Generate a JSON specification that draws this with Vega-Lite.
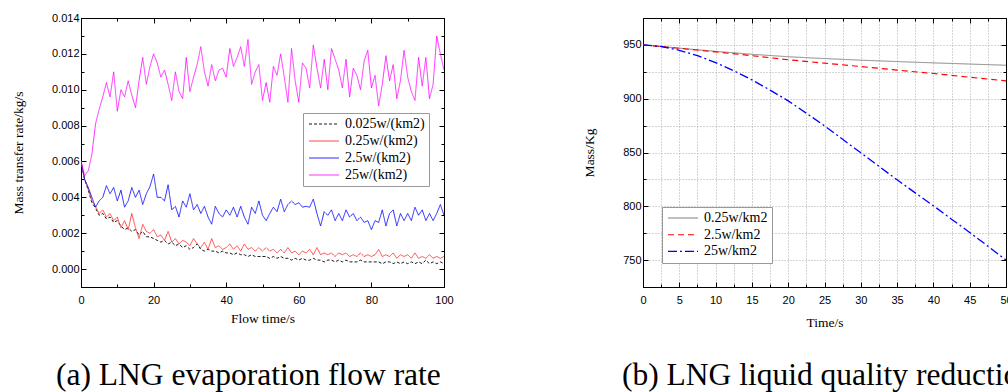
{
 "$schema": "https://vega.github.io/schema/vega-lite/v6.json",
 "background": "white",
 "padding": {"left": 10, "top": 11, "right": 0, "bottom": 0},
 "bounds": "flush",
 "spacing": 199,
 "resolve": {"scale": {"color": "independent", "strokeDash": "independent", "strokeWidth": "independent"}, "legend": {"color": "independent", "strokeDash": "independent", "strokeWidth": "independent"}},
 "config": {
  "view": {"stroke": "black", "strokeWidth": 1},
  "axis": {"labelFont": "Liberation Sans", "labelFontSize": 11, "labelColor": "black", "titleFont": "Liberation Serif", "titleFontSize": 13.5, "titleFontWeight": "normal", "titleColor": "black", "domainColor": "black", "tickColor": "black", "grid": false, "labelFlush": false, "labelOverlap": false},
  "legend": {"labelFont": "Liberation Serif", "labelFontSize": 14, "labelColor": "black", "fillColor": "white", "strokeColor": "#999999", "padding": 4, "symbolSize": 100, "symbolType": "M-3,0H3", "symbolOffset": 10, "labelOffset": 14, "rowPadding": 3}
 },
 "datasets": {
  "left": [
   {"t":0,"s":"0.025w/(km2)","v":0.006},{"t":1,"s":"0.025w/(km2)","v":0.005},{"t":2,"s":"0.025w/(km2)","v":0.0044},{"t":3,"s":"0.025w/(km2)","v":0.0037},{"t":4,"s":"0.025w/(km2)","v":0.0034},{"t":5,"s":"0.025w/(km2)","v":0.003},{"t":6,"s":"0.025w/(km2)","v":0.0031},{"t":7,"s":"0.025w/(km2)","v":0.0028},{"t":8,"s":"0.025w/(km2)","v":0.0029},{"t":9,"s":"0.025w/(km2)","v":0.0026},{"t":10,"s":"0.025w/(km2)","v":0.0027},
   {"t":11,"s":"0.025w/(km2)","v":0.0024},{"t":12,"s":"0.025w/(km2)","v":0.0022},{"t":13,"s":"0.025w/(km2)","v":0.0023},{"t":14,"s":"0.025w/(km2)","v":0.0021},{"t":15,"s":"0.025w/(km2)","v":0.0022},{"t":16,"s":"0.025w/(km2)","v":0.0019},{"t":17,"s":"0.025w/(km2)","v":0.0021},{"t":18,"s":"0.025w/(km2)","v":0.0018},{"t":19,"s":"0.025w/(km2)","v":0.0018},{"t":20,"s":"0.025w/(km2)","v":0.0017},
   {"t":21,"s":"0.025w/(km2)","v":0.0016},{"t":22,"s":"0.025w/(km2)","v":0.0015},{"t":23,"s":"0.025w/(km2)","v":0.0016},{"t":24,"s":"0.025w/(km2)","v":0.0014},{"t":25,"s":"0.025w/(km2)","v":0.0015},{"t":26,"s":"0.025w/(km2)","v":0.0013},{"t":27,"s":"0.025w/(km2)","v":0.0014},{"t":28,"s":"0.025w/(km2)","v":0.0012},{"t":29,"s":"0.025w/(km2)","v":0.0013},{"t":30,"s":"0.025w/(km2)","v":0.0011},
   {"t":31,"s":"0.025w/(km2)","v":0.0012},{"t":32,"s":"0.025w/(km2)","v":0.0014},{"t":33,"s":"0.025w/(km2)","v":0.0011},{"t":34,"s":"0.025w/(km2)","v":0.001},{"t":35,"s":"0.025w/(km2)","v":0.0011},{"t":36,"s":"0.025w/(km2)","v":0.001},{"t":37,"s":"0.025w/(km2)","v":0.001},{"t":38,"s":"0.025w/(km2)","v":0.0009},{"t":39,"s":"0.025w/(km2)","v":0.001},{"t":40,"s":"0.025w/(km2)","v":0.0009},
   {"t":41,"s":"0.025w/(km2)","v":0.0009},{"t":42,"s":"0.025w/(km2)","v":0.0008},{"t":43,"s":"0.025w/(km2)","v":0.0009},{"t":44,"s":"0.025w/(km2)","v":0.0008},{"t":45,"s":"0.025w/(km2)","v":0.0008},{"t":46,"s":"0.025w/(km2)","v":0.0007},{"t":47,"s":"0.025w/(km2)","v":0.0008},{"t":48,"s":"0.025w/(km2)","v":0.0007},{"t":49,"s":"0.025w/(km2)","v":0.0007},{"t":50,"s":"0.025w/(km2)","v":0.0007},
   {"t":51,"s":"0.025w/(km2)","v":0.0007},{"t":52,"s":"0.025w/(km2)","v":0.0006},{"t":53,"s":"0.025w/(km2)","v":0.0007},{"t":54,"s":"0.025w/(km2)","v":0.0006},{"t":55,"s":"0.025w/(km2)","v":0.0007},{"t":56,"s":"0.025w/(km2)","v":0.0006},{"t":57,"s":"0.025w/(km2)","v":0.0006},{"t":58,"s":"0.025w/(km2)","v":0.0005},{"t":59,"s":"0.025w/(km2)","v":0.0006},{"t":60,"s":"0.025w/(km2)","v":0.0005},
   {"t":61,"s":"0.025w/(km2)","v":0.0006},{"t":62,"s":"0.025w/(km2)","v":0.0005},{"t":63,"s":"0.025w/(km2)","v":0.0005},{"t":64,"s":"0.025w/(km2)","v":0.0006},{"t":65,"s":"0.025w/(km2)","v":0.0005},{"t":66,"s":"0.025w/(km2)","v":0.0005},{"t":67,"s":"0.025w/(km2)","v":0.0004},{"t":68,"s":"0.025w/(km2)","v":0.0005},{"t":69,"s":"0.025w/(km2)","v":0.0005},{"t":70,"s":"0.025w/(km2)","v":0.0004},
   {"t":71,"s":"0.025w/(km2)","v":0.0005},{"t":72,"s":"0.025w/(km2)","v":0.0004},{"t":73,"s":"0.025w/(km2)","v":0.0005},{"t":74,"s":"0.025w/(km2)","v":0.0004},{"t":75,"s":"0.025w/(km2)","v":0.0004},{"t":76,"s":"0.025w/(km2)","v":0.0004},{"t":77,"s":"0.025w/(km2)","v":0.0005},{"t":78,"s":"0.025w/(km2)","v":0.0004},{"t":79,"s":"0.025w/(km2)","v":0.0004},{"t":80,"s":"0.025w/(km2)","v":0.0004},
   {"t":81,"s":"0.025w/(km2)","v":0.0004},{"t":82,"s":"0.025w/(km2)","v":0.0004},{"t":83,"s":"0.025w/(km2)","v":0.0003},{"t":84,"s":"0.025w/(km2)","v":0.0004},{"t":85,"s":"0.025w/(km2)","v":0.0004},{"t":86,"s":"0.025w/(km2)","v":0.0003},{"t":87,"s":"0.025w/(km2)","v":0.0004},{"t":88,"s":"0.025w/(km2)","v":0.0003},{"t":89,"s":"0.025w/(km2)","v":0.0004},{"t":90,"s":"0.025w/(km2)","v":0.0003},
   {"t":91,"s":"0.025w/(km2)","v":0.0004},{"t":92,"s":"0.025w/(km2)","v":0.0003},{"t":93,"s":"0.025w/(km2)","v":0.0004},{"t":94,"s":"0.025w/(km2)","v":0.0003},{"t":95,"s":"0.025w/(km2)","v":0.0005},{"t":96,"s":"0.025w/(km2)","v":0.0003},{"t":97,"s":"0.025w/(km2)","v":0.0004},{"t":98,"s":"0.025w/(km2)","v":0.0003},{"t":99,"s":"0.025w/(km2)","v":0.0004},{"t":100,"s":"0.025w/(km2)","v":0.0003},

   {"t":0,"s":"0.25w/(km2)","v":0.006},{"t":1,"s":"0.25w/(km2)","v":0.005},{"t":2,"s":"0.25w/(km2)","v":0.0045},{"t":3,"s":"0.25w/(km2)","v":0.0038},{"t":4,"s":"0.25w/(km2)","v":0.0035},{"t":5,"s":"0.25w/(km2)","v":0.0031},{"t":6,"s":"0.25w/(km2)","v":0.0033},{"t":7,"s":"0.25w/(km2)","v":0.0029},{"t":8,"s":"0.25w/(km2)","v":0.0031},{"t":9,"s":"0.25w/(km2)","v":0.0027},{"t":10,"s":"0.25w/(km2)","v":0.0029},
   {"t":11,"s":"0.25w/(km2)","v":0.0023},{"t":12,"s":"0.25w/(km2)","v":0.0027},{"t":13,"s":"0.25w/(km2)","v":0.0022},{"t":14,"s":"0.25w/(km2)","v":0.0031},{"t":15,"s":"0.25w/(km2)","v":0.0023},{"t":16,"s":"0.25w/(km2)","v":0.0017},{"t":17,"s":"0.25w/(km2)","v":0.0025},{"t":18,"s":"0.25w/(km2)","v":0.0021},{"t":19,"s":"0.25w/(km2)","v":0.002},{"t":20,"s":"0.25w/(km2)","v":0.0022},
   {"t":21,"s":"0.25w/(km2)","v":0.0018},{"t":22,"s":"0.25w/(km2)","v":0.0019},{"t":23,"s":"0.25w/(km2)","v":0.0016},{"t":24,"s":"0.25w/(km2)","v":0.0021},{"t":25,"s":"0.25w/(km2)","v":0.0015},{"t":26,"s":"0.25w/(km2)","v":0.0017},{"t":27,"s":"0.25w/(km2)","v":0.0014},{"t":28,"s":"0.25w/(km2)","v":0.0016},{"t":29,"s":"0.25w/(km2)","v":0.0015},{"t":30,"s":"0.25w/(km2)","v":0.0013},
   {"t":31,"s":"0.25w/(km2)","v":0.0017},{"t":32,"s":"0.25w/(km2)","v":0.0014},{"t":33,"s":"0.25w/(km2)","v":0.0012},{"t":34,"s":"0.25w/(km2)","v":0.0015},{"t":35,"s":"0.25w/(km2)","v":0.0011},{"t":36,"s":"0.25w/(km2)","v":0.0017},{"t":37,"s":"0.25w/(km2)","v":0.0012},{"t":38,"s":"0.25w/(km2)","v":0.0013},{"t":39,"s":"0.25w/(km2)","v":0.0011},{"t":40,"s":"0.25w/(km2)","v":0.0012},
   {"t":41,"s":"0.25w/(km2)","v":0.0014},{"t":42,"s":"0.25w/(km2)","v":0.0011},{"t":43,"s":"0.25w/(km2)","v":0.0013},{"t":44,"s":"0.25w/(km2)","v":0.001},{"t":45,"s":"0.25w/(km2)","v":0.0014},{"t":46,"s":"0.25w/(km2)","v":0.0011},{"t":47,"s":"0.25w/(km2)","v":0.0012},{"t":48,"s":"0.25w/(km2)","v":0.001},{"t":49,"s":"0.25w/(km2)","v":0.0012},{"t":50,"s":"0.25w/(km2)","v":0.001},
   {"t":51,"s":"0.25w/(km2)","v":0.0012},{"t":52,"s":"0.25w/(km2)","v":0.001},{"t":53,"s":"0.25w/(km2)","v":0.0011},{"t":54,"s":"0.25w/(km2)","v":0.0009},{"t":55,"s":"0.25w/(km2)","v":0.0011},{"t":56,"s":"0.25w/(km2)","v":0.0009},{"t":57,"s":"0.25w/(km2)","v":0.0012},{"t":58,"s":"0.25w/(km2)","v":0.0009},{"t":59,"s":"0.25w/(km2)","v":0.001},{"t":60,"s":"0.25w/(km2)","v":0.0008},
   {"t":61,"s":"0.25w/(km2)","v":0.001},{"t":62,"s":"0.25w/(km2)","v":0.0009},{"t":63,"s":"0.25w/(km2)","v":0.0011},{"t":64,"s":"0.25w/(km2)","v":0.0008},{"t":65,"s":"0.25w/(km2)","v":0.0012},{"t":66,"s":"0.25w/(km2)","v":0.0008},{"t":67,"s":"0.25w/(km2)","v":0.0009},{"t":68,"s":"0.25w/(km2)","v":0.0008},{"t":69,"s":"0.25w/(km2)","v":0.0009},{"t":70,"s":"0.25w/(km2)","v":0.0007},
   {"t":71,"s":"0.25w/(km2)","v":0.0009},{"t":72,"s":"0.25w/(km2)","v":0.0008},{"t":73,"s":"0.25w/(km2)","v":0.0009},{"t":74,"s":"0.25w/(km2)","v":0.0007},{"t":75,"s":"0.25w/(km2)","v":0.0008},{"t":76,"s":"0.25w/(km2)","v":0.0007},{"t":77,"s":"0.25w/(km2)","v":0.0009},{"t":78,"s":"0.25w/(km2)","v":0.0007},{"t":79,"s":"0.25w/(km2)","v":0.0008},{"t":80,"s":"0.25w/(km2)","v":0.0007},
   {"t":81,"s":"0.25w/(km2)","v":0.0008},{"t":82,"s":"0.25w/(km2)","v":0.0011},{"t":83,"s":"0.25w/(km2)","v":0.0007},{"t":84,"s":"0.25w/(km2)","v":0.0008},{"t":85,"s":"0.25w/(km2)","v":0.0007},{"t":86,"s":"0.25w/(km2)","v":0.0009},{"t":87,"s":"0.25w/(km2)","v":0.0006},{"t":88,"s":"0.25w/(km2)","v":0.0008},{"t":89,"s":"0.25w/(km2)","v":0.0007},{"t":90,"s":"0.25w/(km2)","v":0.0008},
   {"t":91,"s":"0.25w/(km2)","v":0.0006},{"t":92,"s":"0.25w/(km2)","v":0.0009},{"t":93,"s":"0.25w/(km2)","v":0.0006},{"t":94,"s":"0.25w/(km2)","v":0.0007},{"t":95,"s":"0.25w/(km2)","v":0.0006},{"t":96,"s":"0.25w/(km2)","v":0.0008},{"t":97,"s":"0.25w/(km2)","v":0.0006},{"t":98,"s":"0.25w/(km2)","v":0.0007},{"t":99,"s":"0.25w/(km2)","v":0.0006},{"t":100,"s":"0.25w/(km2)","v":0.0007},

   {"t":0,"s":"2.5w/(km2)","v":0.006},{"t":1,"s":"2.5w/(km2)","v":0.005},{"t":2,"s":"2.5w/(km2)","v":0.00455},{"t":3,"s":"2.5w/(km2)","v":0.004},{"t":4,"s":"2.5w/(km2)","v":0.00345},{"t":5,"s":"2.5w/(km2)","v":0.0038},{"t":6,"s":"2.5w/(km2)","v":0.004},{"t":7,"s":"2.5w/(km2)","v":0.00465},{"t":8,"s":"2.5w/(km2)","v":0.0042},{"t":9,"s":"2.5w/(km2)","v":0.00455},{"t":10,"s":"2.5w/(km2)","v":0.0038},
   {"t":11,"s":"2.5w/(km2)","v":0.0044},{"t":12,"s":"2.5w/(km2)","v":0.00345},{"t":13,"s":"2.5w/(km2)","v":0.0038},{"t":14,"s":"2.5w/(km2)","v":0.00455},{"t":15,"s":"2.5w/(km2)","v":0.004},{"t":16,"s":"2.5w/(km2)","v":0.0044},{"t":17,"s":"2.5w/(km2)","v":0.0036},{"t":18,"s":"2.5w/(km2)","v":0.0042},{"t":19,"s":"2.5w/(km2)","v":0.0046},{"t":20,"s":"2.5w/(km2)","v":0.0053},
   {"t":21,"s":"2.5w/(km2)","v":0.004},{"t":22,"s":"2.5w/(km2)","v":0.004},{"t":23,"s":"2.5w/(km2)","v":0.0038},{"t":24,"s":"2.5w/(km2)","v":0.0047},{"t":25,"s":"2.5w/(km2)","v":0.0033},{"t":26,"s":"2.5w/(km2)","v":0.0035},{"t":27,"s":"2.5w/(km2)","v":0.0029},{"t":28,"s":"2.5w/(km2)","v":0.0038},{"t":29,"s":"2.5w/(km2)","v":0.00345},{"t":30,"s":"2.5w/(km2)","v":0.0042},
   {"t":31,"s":"2.5w/(km2)","v":0.0033},{"t":32,"s":"2.5w/(km2)","v":0.0036},{"t":33,"s":"2.5w/(km2)","v":0.0031},{"t":34,"s":"2.5w/(km2)","v":0.0035},{"t":35,"s":"2.5w/(km2)","v":0.0029},{"t":36,"s":"2.5w/(km2)","v":0.0025},{"t":37,"s":"2.5w/(km2)","v":0.0035},{"t":38,"s":"2.5w/(km2)","v":0.0031},{"t":39,"s":"2.5w/(km2)","v":0.0029},{"t":40,"s":"2.5w/(km2)","v":0.0033},
   {"t":41,"s":"2.5w/(km2)","v":0.003},{"t":42,"s":"2.5w/(km2)","v":0.00345},{"t":43,"s":"2.5w/(km2)","v":0.0029},{"t":44,"s":"2.5w/(km2)","v":0.0035},{"t":45,"s":"2.5w/(km2)","v":0.0029},{"t":46,"s":"2.5w/(km2)","v":0.0025},{"t":47,"s":"2.5w/(km2)","v":0.00345},{"t":48,"s":"2.5w/(km2)","v":0.0031},{"t":49,"s":"2.5w/(km2)","v":0.0038},{"t":50,"s":"2.5w/(km2)","v":0.003},
   {"t":51,"s":"2.5w/(km2)","v":0.0027},{"t":52,"s":"2.5w/(km2)","v":0.0031},{"t":53,"s":"2.5w/(km2)","v":0.00345},{"t":54,"s":"2.5w/(km2)","v":0.0032},{"t":55,"s":"2.5w/(km2)","v":0.0039},{"t":56,"s":"2.5w/(km2)","v":0.0032},{"t":57,"s":"2.5w/(km2)","v":0.0036},{"t":58,"s":"2.5w/(km2)","v":0.0038},{"t":59,"s":"2.5w/(km2)","v":0.0036},{"t":60,"s":"2.5w/(km2)","v":0.0037},
   {"t":61,"s":"2.5w/(km2)","v":0.00345},{"t":62,"s":"2.5w/(km2)","v":0.0035},{"t":63,"s":"2.5w/(km2)","v":0.00345},{"t":64,"s":"2.5w/(km2)","v":0.0039},{"t":65,"s":"2.5w/(km2)","v":0.0031},{"t":66,"s":"2.5w/(km2)","v":0.0024},{"t":67,"s":"2.5w/(km2)","v":0.0032},{"t":68,"s":"2.5w/(km2)","v":0.003},{"t":69,"s":"2.5w/(km2)","v":0.0033},{"t":70,"s":"2.5w/(km2)","v":0.0027},
   {"t":71,"s":"2.5w/(km2)","v":0.0031},{"t":72,"s":"2.5w/(km2)","v":0.0027},{"t":73,"s":"2.5w/(km2)","v":0.0033},{"t":74,"s":"2.5w/(km2)","v":0.0029},{"t":75,"s":"2.5w/(km2)","v":0.0031},{"t":76,"s":"2.5w/(km2)","v":0.0027},{"t":77,"s":"2.5w/(km2)","v":0.0029},{"t":78,"s":"2.5w/(km2)","v":0.0026},{"t":79,"s":"2.5w/(km2)","v":0.0027},{"t":80,"s":"2.5w/(km2)","v":0.0022},
   {"t":81,"s":"2.5w/(km2)","v":0.0027},{"t":82,"s":"2.5w/(km2)","v":0.0026},{"t":83,"s":"2.5w/(km2)","v":0.0033},{"t":84,"s":"2.5w/(km2)","v":0.0024},{"t":85,"s":"2.5w/(km2)","v":0.0031},{"t":86,"s":"2.5w/(km2)","v":0.0033},{"t":87,"s":"2.5w/(km2)","v":0.0024},{"t":88,"s":"2.5w/(km2)","v":0.0031},{"t":89,"s":"2.5w/(km2)","v":0.0027},{"t":90,"s":"2.5w/(km2)","v":0.0031},
   {"t":91,"s":"2.5w/(km2)","v":0.0027},{"t":92,"s":"2.5w/(km2)","v":0.00345},{"t":93,"s":"2.5w/(km2)","v":0.003},{"t":94,"s":"2.5w/(km2)","v":0.0033},{"t":95,"s":"2.5w/(km2)","v":0.0027},{"t":96,"s":"2.5w/(km2)","v":0.0031},{"t":97,"s":"2.5w/(km2)","v":0.0027},{"t":98,"s":"2.5w/(km2)","v":0.0031},{"t":99,"s":"2.5w/(km2)","v":0.0036},{"t":100,"s":"2.5w/(km2)","v":0.003},

   {"t":0,"s":"25w/(km2)","v":0.00604},{"t":1,"s":"25w/(km2)","v":0.0052},{"t":2,"s":"25w/(km2)","v":0.00548},{"t":3,"s":"25w/(km2)","v":0.0064},{"t":4,"s":"25w/(km2)","v":0.0081},{"t":5,"s":"25w/(km2)","v":0.0089},{"t":6,"s":"25w/(km2)","v":0.0096},{"t":7,"s":"25w/(km2)","v":0.0104},{"t":8,"s":"25w/(km2)","v":0.0096},{"t":9,"s":"25w/(km2)","v":0.011},{"t":10,"s":"25w/(km2)","v":0.0088},
   {"t":11,"s":"25w/(km2)","v":0.01},{"t":12,"s":"25w/(km2)","v":0.0096},{"t":13,"s":"25w/(km2)","v":0.0105},{"t":14,"s":"25w/(km2)","v":0.0097},{"t":15,"s":"25w/(km2)","v":0.009},{"t":16,"s":"25w/(km2)","v":0.0105},{"t":17,"s":"25w/(km2)","v":0.0118},{"t":18,"s":"25w/(km2)","v":0.0103},{"t":19,"s":"25w/(km2)","v":0.0113},{"t":20,"s":"25w/(km2)","v":0.012},
   {"t":21,"s":"25w/(km2)","v":0.0115},{"t":22,"s":"25w/(km2)","v":0.0107},{"t":23,"s":"25w/(km2)","v":0.0111},{"t":24,"s":"25w/(km2)","v":0.0103},{"t":25,"s":"25w/(km2)","v":0.0094},{"t":26,"s":"25w/(km2)","v":0.011},{"t":27,"s":"25w/(km2)","v":0.0099},{"t":28,"s":"25w/(km2)","v":0.0095},{"t":29,"s":"25w/(km2)","v":0.0118},{"t":30,"s":"25w/(km2)","v":0.0099},
   {"t":31,"s":"25w/(km2)","v":0.0107},{"t":32,"s":"25w/(km2)","v":0.0114},{"t":33,"s":"25w/(km2)","v":0.0124},{"t":34,"s":"25w/(km2)","v":0.011},{"t":35,"s":"25w/(km2)","v":0.0102},{"t":36,"s":"25w/(km2)","v":0.0114},{"t":37,"s":"25w/(km2)","v":0.0105},{"t":38,"s":"25w/(km2)","v":0.0111},{"t":39,"s":"25w/(km2)","v":0.0112},{"t":40,"s":"25w/(km2)","v":0.0107},
   {"t":41,"s":"25w/(km2)","v":0.0123},{"t":42,"s":"25w/(km2)","v":0.0113},{"t":43,"s":"25w/(km2)","v":0.0118},{"t":44,"s":"25w/(km2)","v":0.0124},{"t":45,"s":"25w/(km2)","v":0.0113},{"t":46,"s":"25w/(km2)","v":0.0128},{"t":47,"s":"25w/(km2)","v":0.0103},{"t":48,"s":"25w/(km2)","v":0.011},{"t":49,"s":"25w/(km2)","v":0.0114},{"t":50,"s":"25w/(km2)","v":0.0094},
   {"t":51,"s":"25w/(km2)","v":0.0104},{"t":52,"s":"25w/(km2)","v":0.0093},{"t":53,"s":"25w/(km2)","v":0.0113},{"t":54,"s":"25w/(km2)","v":0.0108},{"t":55,"s":"25w/(km2)","v":0.012},{"t":56,"s":"25w/(km2)","v":0.0107},{"t":57,"s":"25w/(km2)","v":0.0093},{"t":58,"s":"25w/(km2)","v":0.0123},{"t":59,"s":"25w/(km2)","v":0.0105},{"t":60,"s":"25w/(km2)","v":0.0093},
   {"t":61,"s":"25w/(km2)","v":0.0115},{"t":62,"s":"25w/(km2)","v":0.0112},{"t":63,"s":"25w/(km2)","v":0.0101},{"t":64,"s":"25w/(km2)","v":0.0125},{"t":65,"s":"25w/(km2)","v":0.0112},{"t":66,"s":"25w/(km2)","v":0.0101},{"t":67,"s":"25w/(km2)","v":0.0117},{"t":68,"s":"25w/(km2)","v":0.01},{"t":69,"s":"25w/(km2)","v":0.0123},{"t":70,"s":"25w/(km2)","v":0.0117},
   {"t":71,"s":"25w/(km2)","v":0.0111},{"t":72,"s":"25w/(km2)","v":0.0101},{"t":73,"s":"25w/(km2)","v":0.0117},{"t":74,"s":"25w/(km2)","v":0.0096},{"t":75,"s":"25w/(km2)","v":0.0112},{"t":76,"s":"25w/(km2)","v":0.0108},{"t":77,"s":"25w/(km2)","v":0.01},{"t":78,"s":"25w/(km2)","v":0.0116},{"t":79,"s":"25w/(km2)","v":0.0122},{"t":80,"s":"25w/(km2)","v":0.0101},
   {"t":81,"s":"25w/(km2)","v":0.0108},{"t":82,"s":"25w/(km2)","v":0.0091},{"t":83,"s":"25w/(km2)","v":0.0103},{"t":84,"s":"25w/(km2)","v":0.0119},{"t":85,"s":"25w/(km2)","v":0.0105},{"t":86,"s":"25w/(km2)","v":0.0114},{"t":87,"s":"25w/(km2)","v":0.0095},{"t":88,"s":"25w/(km2)","v":0.0105},{"t":89,"s":"25w/(km2)","v":0.0122},{"t":90,"s":"25w/(km2)","v":0.0107},
   {"t":91,"s":"25w/(km2)","v":0.0099},{"t":92,"s":"25w/(km2)","v":0.0094},{"t":93,"s":"25w/(km2)","v":0.0118},{"t":94,"s":"25w/(km2)","v":0.0102},{"t":95,"s":"25w/(km2)","v":0.0118},{"t":96,"s":"25w/(km2)","v":0.0095},{"t":97,"s":"25w/(km2)","v":0.0103},{"t":98,"s":"25w/(km2)","v":0.013},{"t":99,"s":"25w/(km2)","v":0.012},{"t":100,"s":"25w/(km2)","v":0.0111}
  ],
  "right": [
   {"t":0,"s":"0.25w/km2","m":950},{"t":5,"s":"0.25w/km2","m":947},{"t":10,"s":"0.25w/km2","m":944},{"t":15,"s":"0.25w/km2","m":941.3},{"t":20,"s":"0.25w/km2","m":939},{"t":25,"s":"0.25w/km2","m":937.3},{"t":30,"s":"0.25w/km2","m":935.8},{"t":35,"s":"0.25w/km2","m":934.5},{"t":40,"s":"0.25w/km2","m":933.3},{"t":45,"s":"0.25w/km2","m":932.2},{"t":50,"s":"0.25w/km2","m":931.1},
   {"t":0,"s":"2.5w/km2","m":950},{"t":5,"s":"2.5w/km2","m":946.8},{"t":10,"s":"2.5w/km2","m":943.5},{"t":15,"s":"2.5w/km2","m":940},{"t":20,"s":"2.5w/km2","m":936.2},{"t":25,"s":"2.5w/km2","m":933},{"t":30,"s":"2.5w/km2","m":929.9},{"t":35,"s":"2.5w/km2","m":926.6},{"t":40,"s":"2.5w/km2","m":923.4},{"t":45,"s":"2.5w/km2","m":920},{"t":50,"s":"2.5w/km2","m":916.6},
   {"t":0,"s":"25w/km2","m":950},{"t":2.5,"s":"25w/km2","m":948.5},{"t":5,"s":"25w/km2","m":945},{"t":7.5,"s":"25w/km2","m":940},{"t":10,"s":"25w/km2","m":933.6},{"t":12.5,"s":"25w/km2","m":926},{"t":15,"s":"25w/km2","m":917.5},{"t":17.5,"s":"25w/km2","m":908},{"t":20,"s":"25w/km2","m":898},{"t":22.5,"s":"25w/km2","m":886.5},{"t":25,"s":"25w/km2","m":874.8},
   {"t":27.5,"s":"25w/km2","m":862.3},{"t":30,"s":"25w/km2","m":849.7},{"t":32.5,"s":"25w/km2","m":837.2},{"t":35,"s":"25w/km2","m":824.6},{"t":37.5,"s":"25w/km2","m":812.5},{"t":40,"s":"25w/km2","m":800.5},{"t":42.5,"s":"25w/km2","m":788},{"t":45,"s":"25w/km2","m":775.7},{"t":47.5,"s":"25w/km2","m":763},{"t":50,"s":"25w/km2","m":750}
  ]
 },
 "hconcat": [
  {
   "width": 363, "height": 269,
   "data": {"name": "left"},
   "title": {"text": "(a) LNG evaporation flow rate", "orient": "bottom", "anchor": "start", "frame": "group", "dx": -25, "offset": 35, "font": "Liberation Serif", "fontSize": 31.5, "fontWeight": "normal", "color": "black"},
   "layer": [
    {
     "mark": {"type": "line", "clip": true},
     "encoding": {
      "x": {"field": "t", "type": "quantitative", "scale": {"domain": [0, 100], "nice": false},
            "axis": {"title": "Flow time/s", "titlePadding": 4, "labelPadding": 12, "values": [0,10,20,30,40,50,60,70,80,90,100],
                     "labelExpr": "datum.value % 20 == 0 ? datum.label : ''",
                     "tickSize": {"condition": {"test": "datum.value % 20 == 0", "value": -5}, "value": -3}}},
      "y": {"field": "v", "type": "quantitative", "scale": {"domain": [-0.001, 0.014], "nice": false, "zero": false},
            "axis": {"title": "Mass transfer rate/kg/s", "titlePadding": 26, "labelPadding": 7, "values": [-0.001,0,0.001,0.002,0.003,0.004,0.005,0.006,0.007,0.008,0.009,0.01,0.011,0.012,0.013,0.014],
                     "labelExpr": "datum.value >= 0 && round(datum.value*1000) % 2 == 0 ? format(datum.value, '.3f') : ''",
                     "tickSize": {"condition": {"test": "round(datum.value*1000) % 2 == 0", "value": -5}, "value": -3}}},
      "color": {"field": "s", "type": "nominal", "scale": {"domain": ["0.025w/(km2)", "0.25w/(km2)", "2.5w/(km2)", "25w/(km2)"], "range": ["#000000", "#ff3030", "#0000ff", "#ff00ff"]},
                "legend": {"title": null, "orient": "none", "legendX": 222, "legendY": 95, "symbolType": "M-3,0H3", "symbolSize": 100}},
      "strokeDash": {"field": "s", "type": "nominal", "scale": {"domain": ["0.025w/(km2)", "0.25w/(km2)", "2.5w/(km2)", "25w/(km2)"], "range": [[3, 2], [1, 0], [1, 0], [1, 0]]},
                "legend": {"title": null, "orient": "none", "legendX": 222, "legendY": 95, "symbolType": "M-3,0H3", "symbolSize": 100}},
      "strokeWidth": {"field": "s", "type": "nominal", "scale": {"domain": ["0.025w/(km2)", "0.25w/(km2)", "2.5w/(km2)", "25w/(km2)"], "range": [0.9, 0.8, 1.3, 2.8]},
                "legend": {"title": null, "orient": "none", "legendX": 222, "legendY": 95, "symbolType": "M-3,0H3", "symbolSize": 100}}
     }
    },
    {
     "mark": {"type": "line", "opacity": 0},
     "encoding": {
      "x": {"field": "t", "type": "quantitative",
            "axis": {"orient": "top", "title": null, "labels": false, "values": [0,10,20,30,40,50,60,70,80,90,100],
                     "tickSize": {"condition": {"test": "datum.value % 20 == 0", "value": -5}, "value": -3}}},
      "y": {"field": "v", "type": "quantitative",
            "axis": {"orient": "right", "title": null, "labels": false, "values": [-0.001,0,0.001,0.002,0.003,0.004,0.005,0.006,0.007,0.008,0.009,0.01,0.011,0.012,0.013,0.014],
                     "tickSize": {"condition": {"test": "round(datum.value*1000) % 2 == 0", "value": -5}, "value": -3}}},
      "detail": {"field": "s"}
     }
    }
   ],
   "resolve": {"axis": {"x": "independent", "y": "independent"}}
  },
  {
   "width": 363, "height": 269,
   "data": {"name": "right"},
   "title": {"text": "(b) LNG liquid quality reduction", "orient": "bottom", "anchor": "start", "frame": "group", "dx": -21, "offset": 31, "font": "Liberation Serif", "fontSize": 31.5, "fontWeight": "normal", "color": "black"},
   "layer": [
    {
     "mark": {"type": "line", "clip": true},
     "encoding": {
      "x": {"field": "t", "type": "quantitative", "scale": {"domain": [0, 50], "nice": false},
            "axis": {"title": "Time/s", "titlePadding": 8, "labelPadding": 12, "values": [0,2.5,5,7.5,10,12.5,15,17.5,20,22.5,25,27.5,30,32.5,35,37.5,40,42.5,45,47.5,50],
                     "labelExpr": "datum.value % 5 == 0 ? datum.label : ''", "grid": true, "gridDash": [1, 2], "gridColor": "#aaaaaa",
                     "tickSize": {"condition": {"test": "datum.value % 5 == 0", "value": -5}, "value": -3}}},
      "y": {"field": "m", "type": "quantitative", "scale": {"domain": [725, 975], "nice": false, "zero": false},
            "axis": {"title": "Mass/Kg", "titlePadding": 26, "labelPadding": 7, "values": [750,775,800,825,850,875,900,925,950],
                     "labelExpr": "datum.value % 50 == 0 ? datum.label : ''", "grid": true, "gridDash": [1, 2], "gridColor": "#aaaaaa",
                     "tickSize": {"condition": {"test": "datum.value % 50 == 0", "value": -5}, "value": -3}}},
      "color": {"field": "s", "type": "nominal", "scale": {"domain": ["0.25w/km2", "2.5w/km2", "25w/km2"], "range": ["#808080", "#ff0000", "#0000ff"]},
                "legend": {"title": null, "orient": "none", "legendX": 19, "legendY": 189, "symbolType": "M-3,0H3", "symbolSize": 100, "rowPadding": 2.7}},
      "strokeDash": {"field": "s", "type": "nominal", "scale": {"domain": ["0.25w/km2", "2.5w/km2", "25w/km2"], "range": [[1, 0], [6, 4], [9, 3, 2, 3]]},
                "legend": {"title": null, "orient": "none", "legendX": 19, "legendY": 189, "symbolType": "M-3,0H3", "symbolSize": 100, "rowPadding": 2.7}},
      "strokeWidth": {"field": "s", "type": "nominal", "scale": {"domain": ["0.25w/km2", "2.5w/km2", "25w/km2"], "range": [1, 1.3, 1]},
                "legend": {"title": null, "orient": "none", "legendX": 19, "legendY": 189, "symbolType": "M-3,0H3", "symbolSize": 100, "rowPadding": 2.7}}
     }
    },
    {
     "mark": {"type": "line", "opacity": 0},
     "encoding": {
      "x": {"field": "t", "type": "quantitative",
            "axis": {"orient": "top", "title": null, "labels": false, "values": [0,2.5,5,7.5,10,12.5,15,17.5,20,22.5,25,27.5,30,32.5,35,37.5,40,42.5,45,47.5,50],
                     "tickSize": {"condition": {"test": "datum.value % 5 == 0", "value": -5}, "value": -3}}},
      "y": {"field": "m", "type": "quantitative",
            "axis": {"orient": "right", "title": null, "labels": false, "values": [750,775,800,825,850,875,900,925,950],
                     "tickSize": {"condition": {"test": "datum.value % 50 == 0", "value": -5}, "value": -3}}},
      "detail": {"field": "s"}
     }
    }
   ],
   "resolve": {"axis": {"x": "independent", "y": "independent"}}
  }
 ]
}
